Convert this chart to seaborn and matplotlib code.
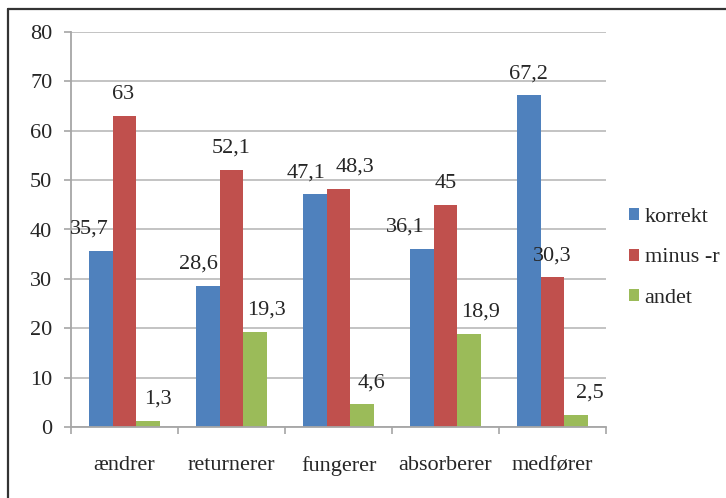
import matplotlib
matplotlib.use("Agg")
import matplotlib.pyplot as plt
import seaborn as sns
import pandas as pd
from matplotlib.lines import Line2D
from matplotlib.patches import Patch

categories = ["ændrer", "returnerer", "fungerer", "absorberer", "medfører"]
series_names = ["korrekt", "minus -r", "andet"]
korrekt = [35.7, 28.6, 47.1, 36.1, 67.2]
minus_r = [63, 52.1, 48.3, 45, 30.3]
andet = [1.3, 19.3, 4.6, 18.9, 2.5]
y_ticks = [0, 10, 20, 30, 40, 50, 60, 70, 80]
colors = ["#4F81BD", "#C0504D", "#9BBB59"]

rows = []
for name, vals in zip(series_names, [korrekt, minus_r, andet]):
    for cat, v in zip(categories, vals):
        rows.append({"verb": cat, "serie": name, "pct": v})
df = pd.DataFrame(rows)

sns.set_style("white")
FONT = "Liberation Serif"
plt.rcParams["font.family"] = "serif"
plt.rcParams["font.serif"] = [FONT, "DejaVu Serif"]
FS = 16

fig = plt.figure(figsize=(7.26, 4.98), dpi=100)
ax = fig.add_axes([71 / 726, 71 / 498, (606 - 71) / 726, (427 - 32) / 498])

sns.barplot(data=df, x="verb", y="pct", hue="serie", order=categories,
            hue_order=series_names, palette=colors, saturation=1,
            width=0.665, ax=ax, legend=False, edgecolor="none", linewidth=0)

ax.set_ylim(0, 80)
ax.set_xlim(-0.5, len(categories) - 0.5)
ax.set_yticks(y_ticks)
ax.set_yticklabels([str(t) for t in y_ticks], fontsize=FS, family=FONT)
ax.set_xticks([i - 0.5 for i in range(len(categories) + 1)])
ax.set_xticklabels([])
ax.set_xticks(range(len(categories)), minor=True)
ax.set_xticklabels(categories, minor=True, fontsize=FS, family=FONT)
ax.tick_params(axis="x", which="minor", length=0, pad=21)
ax.tick_params(axis="x", which="major", length=5, width=1.2, color="#A6A6A6",
               direction="out", bottom=True)
ax.tick_params(axis="y", length=5, width=1.2, color="#A6A6A6", direction="out",
               left=True, pad=8.5)
ax.set_xlabel("")
ax.set_ylabel("")
ax.grid(axis="y", color="#BEBEBE", linewidth=1.3)
ax.set_axisbelow(True)
for side in ["top", "right"]:
    ax.spines[side].set_visible(False)
for side in ["left", "bottom"]:
    ax.spines[side].set_color("#A6A6A6")
    ax.spines[side].set_linewidth(1.3)

# horizontal nudges (points) that keep neighbouring value labels apart
x_nudge = [
    [-8, -6.5, -6.5, -11.5, 0],   # korrekt
    [-1, 0, 12, 0, 0],            # minus -r
    [7, 8, 7, 8, 10],             # andet
]
for container, nudges in zip(ax.containers, x_nudge):
    for bar, dx in zip(container, nudges):
        h = bar.get_height()
        label = f"{h:g}".replace(".", ",")
        ax.annotate(label, (bar.get_x() + bar.get_width() / 2, h),
                    xytext=(dx, 15.5), textcoords="offset points",
                    ha="center", va="center", fontsize=FS, family=FONT)

handles = [Patch(facecolor=c, edgecolor="none") for c in colors]
fig.legend(handles, series_names, loc="center left",
           bbox_to_anchor=(609 / 726, 1 - 258 / 498), frameon=False,
           prop={"family": FONT, "size": FS}, handlelength=0.45,
           handleheight=0.45, handletextpad=0.25, labelspacing=0.97)

# outer frame lines
fig.add_artist(Line2D([8 / 726, 1], [1 - 9 / 498, 1 - 9 / 498],
                      transform=fig.transFigure, color="#333333", linewidth=1.6))
fig.add_artist(Line2D([8 / 726, 8 / 726], [0, 1 - 9 / 498],
                      transform=fig.transFigure, color="#333333", linewidth=1.6))

fig.savefig("out.png", dpi=100)
